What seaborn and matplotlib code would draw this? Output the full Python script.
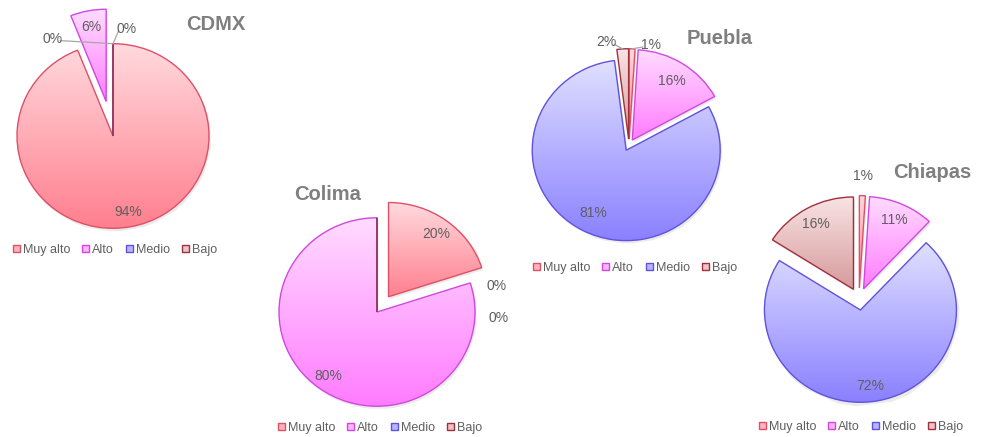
import numpy as np
import matplotlib
matplotlib.use("Agg")
import matplotlib.pyplot as plt
import seaborn as sns
from matplotlib.colors import LinearSegmentedColormap
from matplotlib.patches import Patch

sns.set_theme(style="white")
plt.rcParams['font.family'] = ['Liberation Sans', 'DejaVu Sans']

# ---------------- data ----------------
categories = ["Muy alto", "Alto", "Medio", "Bajo"]
states = ["CDMX", "Colima", "Puebla", "Chiapas"]
cdmx = [94, 6, 0, 0]
colima = [20, 80, 0, 0]
puebla = [1, 16, 81, 2]
chiapas = [1, 11, 72, 16]
values = [cdmx, colima, puebla, chiapas]

# ---------------- styling ----------------
top_cols = ["#ffdade", "#ffdcff", "#e0e0ff", "#f9e4e4"]
bot_cols = ["#ff7f8e", "#ff7cff", "#8a80ff", "#d69a9c"]
edge_cols = ["#de5068", "#d048e0", "#6052dc", "#a0303e"]
leg_face = ["#ffb4bc", "#ffb4ff", "#b8b4ff", "#ecc4c4"]
txt_col = "#5f5f5f"
title_col = "#7f7f7f"

W, H = 982, 437
K = 1.04  # slight horizontal stretch of the original image

def Y(ypx):
    return (H - ypx) * K

# layout per pie: center px, radius, explode (fraction of radius), title pos, legend pos
layout = [
    dict(c=(113, 136), r=96, explode=[0, 0.38, 0, 0], title=(216, 25), legend=(115, 250),
         dist=[0.84, 0.82, 1.23, 1.17], ang=[None, None, 329, 7], leader=[False, False, True, True]),
    dict(c=(377, 312), r=98, explode=[0.2, 0, 0, 0], title=(328, 194), legend=(380, 428),
         dist=[0.82, 0.84, 1.25, 1.24], ang=[None, None, 77, 93], leader=[False, False, False, False]),
    dict(c=(629, 145), r=94, explode=[0.065, 0.065, 0.065, 0.065], title=(720, 38), legend=(635, 268),
         dist=[1.13, 0.78, 0.78, 1.16], ang=[12, None, None, 348], leader=[True, False, False, True]),
    dict(c=(859, 299), r=96, explode=[0.12, 0.12, 0.12, 0.12], title=(932, 172), legend=(861, 427),
         dist=[1.21, 0.81, 0.83, 0.81], ang=[None, None, None, None], leader=[False, False, False, False]),
]

fig = plt.figure(figsize=(W / 100, H / 100), dpi=100)
ax = fig.add_axes([0, 0, 1, 1])
ax.set_axis_off()

grad = np.linspace(0, 1, 256).reshape(-1, 1)
cmaps = [LinearSegmentedColormap.from_list(f"g{i}", [bot_cols[i], top_cols[i]]) for i in range(4)]

for vals, st, L in zip(values, states, layout):
    cx, cy = L["c"][0], Y(L["c"][1])
    r = L["r"]
    wedges, _ = ax.pie(vals, explode=[e * r for e in L["explode"]], startangle=90,
                       counterclock=False, radius=r, center=(cx, cy), frame=True,
                       wedgeprops=dict(linewidth=1.0))
    for i, w in enumerate(wedges):
        w.set_edgecolor(edge_cols[i])
        w.set_facecolor("none")
        w.set_zorder(3)
        if vals[i] > 0:
            ext = w.get_path().get_extents()
            sh = plt.Polygon(w.get_path().vertices + np.array([1.5, -2.5]), closed=True,
                             facecolor="#000000", alpha=0.08, edgecolor="none", zorder=1)
            ax.add_patch(sh)
            im = ax.imshow(grad, extent=[ext.x0, ext.x1, ext.y0, ext.y1], origin="lower",
                           cmap=cmaps[i], aspect="auto", zorder=2, interpolation="bilinear")
            im.set_clip_path(w)
        theta_mid = np.deg2rad((w.theta1 + w.theta2) / 2)
        wcx, wcy = w.center
        if L["ang"][i] is not None:
            a = np.deg2rad(90 - L["ang"][i])
            bx, by = cx, cy
        else:
            a = theta_mid
            bx, by = wcx, wcy
        d = L["dist"][i] * r
        lx, ly = bx + d * np.cos(a), by + d * np.sin(a)
        ax.text(lx, ly, f"{vals[i]:.0f}%", ha="center", va="center", fontsize=10,
                color=txt_col, zorder=5)
        if L["leader"][i]:
            ex = wcx + r * np.cos(theta_mid)
            ey = wcy + r * np.sin(theta_mid)
            sx = lx + (8 if lx < ex else -8)
            ax.plot([sx, ex], [ly - 2, ey], color="#a6a6a6", lw=0.9, zorder=4)
    ax.text(L["title"][0], Y(L["title"][1]), st, ha="center", va="center", fontsize=14.5,
            fontweight="bold", color=title_col, zorder=5)
    handles = [Patch(facecolor=leg_face[i], edgecolor=edge_cols[i], linewidth=1.0)
               for i in range(4)]
    fig.legend(handles, categories, loc="center",
               bbox_to_anchor=(L["legend"][0] / W, 1 - L["legend"][1] / H),
               ncol=4, frameon=False, fontsize=9, handlelength=0.55, handleheight=0.55,
               handletextpad=0.25, columnspacing=0.95, borderpad=0, borderaxespad=0,
               labelcolor=txt_col)

ax.set_xlim(0, W)
ax.set_ylim(0, H * K)
ax.set_aspect("auto")
ax.set_axis_off()
fig.savefig("out.png", dpi=100)
